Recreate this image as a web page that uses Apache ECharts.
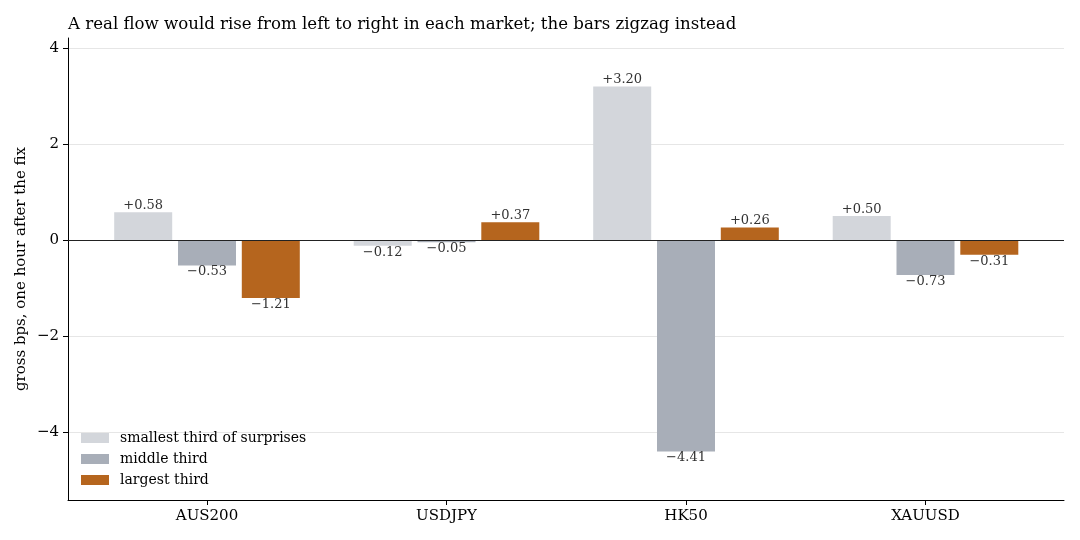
<!DOCTYPE html>
<html>
<head>
<meta charset="utf-8">
<script src="https://cdn.jsdelivr.net/npm/echarts@6/dist/echarts.min.js"></script>
<style>
  html, body { margin: 0; padding: 0; background: #fff; }
  #chart { width: 1080px; height: 540px; }
</style>
</head>
<body>
<div id="chart"></div>
<script>
// data
var markets = ['AUS200', 'USDJPY', 'HK50', 'XAUUSD'];
var seriesNames = ['smallest third of surprises', 'middle third', 'largest third'];
var smallest = [0.58, -0.12, 3.20, 0.50];
var middle = [-0.53, -0.05, -4.41, -0.73];
var largest = [-1.21, 0.37, 0.26, -0.31];
var colors = ['#d3d6db', '#a8aeb8', '#b5651e'];
var yMin = -5.42, yMax = 4.21;

var font = 'DejaVu Serif';
var chart = echarts.init(document.getElementById('chart'));

function fmt(v) {
    var s = Math.abs(v).toFixed(2);
    return (v < 0 ? '\u2212' : '+') + s;
}

// each value gets its label above (positive) or below (negative) the bar
function toItems(arr) {
    return arr.map(function (v) {
        return {
            value: v,
            label: { position: v < 0 ? 'bottom' : 'top' }
        };
    });
}

var allValues = [smallest, middle, largest];
var barSeries = allValues.map(function (arr, i) {
    return {
        name: seriesNames[i],
        type: 'bar',
        xAxisIndex: 1,
        yAxisIndex: 1,
        barWidth: 58,
        barGap: '10%',
        itemStyle: { color: colors[i] },
        label: {
            show: true,
            distance: 0,
            fontFamily: font,
            fontSize: 13,
            color: '#333',
            formatter: function (p) { return fmt(p.value); }
        },
        emphasis: { disabled: true },
        data: toItems(arr)
    };
});

// frame grid: spines, y ticks, grid lines and the zero line
var frameSeries = {
    type: 'scatter',
    xAxisIndex: 0,
    yAxisIndex: 0,
    symbolSize: 0,
    silent: true,
    data: [[0.5, 0]],
    markLine: {
        silent: true,
        symbol: 'none',
        label: { show: false },
        lineStyle: { color: '#222', width: 1, type: 'solid' },
        data: [{ yAxis: 0 }]
    }
};

var option = {
    animation: false,
    backgroundColor: '#fff',
    textStyle: { fontFamily: font },
    title: {
        text: 'A real flow would rise from left to right in each market; the bars zigzag instead',
        left: 68,
        top: 16,
        padding: 0,
        textStyle: { fontFamily: font, fontSize: 16.6, fontWeight: 'normal', color: '#000' }
    },
    legend: {
        data: seriesNames,
        orient: 'vertical',
        left: 76,
        top: 426,
        itemWidth: 28,
        itemHeight: 10,
        itemGap: 7,
        icon: 'rect',
        textStyle: { fontFamily: font, fontSize: 14, color: '#000', padding: [0, 0, 0, 6] }
    },
    grid: [
        { left: 68, right: 16, top: 38, bottom: 40 },
        { left: 87.25, right: 34.75, top: 38, bottom: 40 }
    ],
    xAxis: [
        {
            type: 'value',
            gridIndex: 0,
            min: 0,
            max: 1,
            axisLine: { show: true, onZero: false, lineStyle: { color: '#000', width: 1 } },
            axisTick: { show: false },
            axisLabel: { show: false },
            splitLine: { show: false }
        },
        {
            type: 'category',
            gridIndex: 1,
            data: markets,
            axisLine: { show: false, onZero: false },
            axisTick: { show: true, alignWithLabel: true, length: 5, lineStyle: { color: '#000' } },
            axisLabel: { fontFamily: font, fontSize: 15, color: '#000', margin: 9 },
            splitLine: { show: false }
        }
    ],
    yAxis: [
        {
            type: 'value',
            gridIndex: 0,
            min: yMin,
            max: yMax,
            name: 'gross bps, one hour after the fix',
            nameLocation: 'middle',
            nameGap: 39,
            nameMoveOverlap: false,
            nameTextStyle: { fontFamily: font, fontSize: 15, color: '#000' },
            axisLine: { show: true, lineStyle: { color: '#000', width: 1 } },
            axisTick: { show: true, length: 5, lineStyle: { color: '#000' } },
            axisLabel: {
                fontFamily: font,
                fontSize: 15,
                color: '#000',
                margin: 9,
                showMinLabel: false,
                showMaxLabel: false,
                formatter: function (v) { return v < 0 ? '\u2212' + Math.abs(v) : String(v); }
            },
            splitLine: { show: true, showMinLine: false, showMaxLine: false, lineStyle: { color: '#e6e6e6', width: 1 } }
        },
        {
            type: 'value',
            gridIndex: 1,
            min: yMin,
            max: yMax,
            show: false,
            splitLine: { show: false }
        }
    ],
    series: [frameSeries].concat(barSeries)
};

chart.setOption(option);
</script>
</body>
</html>
